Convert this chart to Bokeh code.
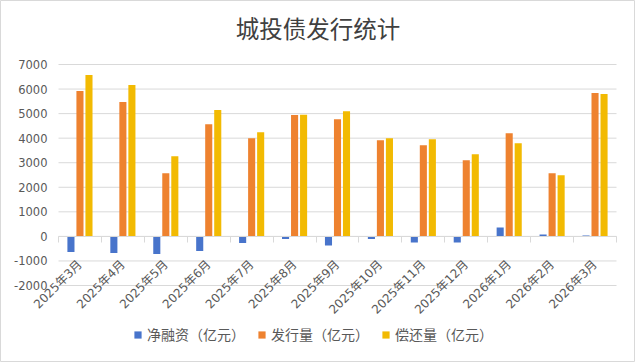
import math
import numpy as np
from bokeh.plotting import figure
from bokeh.models import (ColumnDataSource, LinearAxis, FixedTicker, Label,
                          Legend, LegendItem, Range1d)
from bokeh.embed import file_html
from bokeh.resources import INLINE

months = ["2025年3月", "2025年4月", "2025年5月", "2025年6月", "2025年7月", "2025年8月",
          "2025年9月", "2025年10月", "2025年11月", "2025年12月", "2026年1月", "2026年2月",
          "2026年3月"]
net_financing = [-640, -680, -720, -600, -270, -110, -367, -110, -245, -245, 367, 82, 41]
issuance = [5920, 5470, 2570, 4570, 4000, 4940, 4775, 3920, 3715, 3100, 4205, 2570, 5840]
repayment = [6570, 6165, 3265, 5145, 4245, 4950, 5100, 4000, 3960, 3350, 3795, 2490, 5795]
series_names = ["净融资（亿元）", "发行量（亿元）", "偿还量（亿元）"]
y_ticks = [-2000, -1000, 0, 1000, 2000, 3000, 4000, 5000, 6000, 7000]
title_text = "城投债发行统计"

colors = ["#4874CB", "#EE822F", "#F2BA02"]
FONT = "Noto Sans CJK SC"
NUM_FONT = "DejaVu Sans"
MIX_FONT = "DejaVu Sans, Noto Sans CJK SC"
TXT = "#595959"
GRID = "#d9d9d9"

# layout (pixels): the frame covers the whole canvas so no text gets clipped
W, H = 635, 362
PLOT_L, PLOT_R = 58, 616          # category band, left/right pixel
PLOT_T, PLOT_B = 64, 285          # value band (7000 .. -2000), top/bottom pixel

n = len(months)
idx = np.arange(n)
kx = n / (PLOT_R - PLOT_L)
ky = (y_ticks[-1] - y_ticks[0]) / (PLOT_B - PLOT_T)
x_rng = Range1d(-0.5 - PLOT_L * kx, n - 0.5 + (W - PLOT_R) * kx)
y_rng = Range1d(y_ticks[0] - (H - PLOT_B) * ky, y_ticks[-1] + PLOT_T * ky)

src = ColumnDataSource(dict(x=idx, net=net_financing, iss=issuance, rep=repayment))

p = figure(width=W, height=H, output_backend="svg", toolbar_location=None,
           x_range=x_rng, y_range=y_rng, title=None,
           min_border_left=0, min_border_right=0, min_border_top=0,
           min_border_bottom=0, x_axis_type=None, y_axis_type=None)
p.outline_line_color = GRID
p.outline_line_width = 1
p.background_fill_color = "white"
p.border_fill_color = "white"
p.grid.grid_line_color = None

# title
p.add_layout(Label(x=W / 2, y=H - 27, x_units="screen", y_units="screen", text=title_text,
                   text_align="center", text_baseline="middle", text_font=FONT,
                   text_font_size="23.5px", text_color="#404040"))

# horizontal grid lines at the value ticks, across the category band
p.segment(x0=[-0.5] * len(y_ticks), x1=[n - 0.5] * len(y_ticks), y0=y_ticks, y1=y_ticks,
          line_color=GRID, line_width=1, level="underlay")

# value axis drawn at the left edge of the category band
yaxis = LinearAxis(fixed_location=-0.5, ticker=FixedTicker(ticks=y_ticks),
                   major_label_overrides={t: str(t) for t in y_ticks},
                   axis_line_color=None, major_tick_line_color=None,
                   minor_tick_line_color=None, major_tick_in=0, major_tick_out=0,
                   major_label_standoff=11, major_label_text_font=NUM_FONT,
                   major_label_text_font_size="11.5px", major_label_text_color=TXT)
p.add_layout(yaxis, "left")

# bars
w = 0.165
offs = [-0.21, 0.0, 0.21]
cols = ["net", "iss", "rep"]
renderers = []
for c, o, col in zip(cols, offs, colors):
    r = p.vbar(x=idx + o, top=src.data[c], bottom=0, width=w, color=col, line_color=None)
    renderers.append(r)

# category axis drawn at zero: labels at centres, boundary ticks as minor ticks
xaxis = LinearAxis(fixed_location=0, bounds=(-0.5, n - 0.5),
                   ticker=FixedTicker(ticks=list(idx), minor_ticks=list(np.arange(n + 1) - 0.5)),
                   major_label_overrides={int(i): m for i, m in zip(idx, months)},
                   major_label_orientation=math.pi / 4,
                   major_label_text_font=MIX_FONT, major_label_text_font_size="12px",
                   major_label_text_color=TXT, major_label_standoff=20,
                   major_tick_in=0, major_tick_out=0, major_tick_line_color=None,
                   minor_tick_in=0, minor_tick_out=6, minor_tick_line_color=GRID,
                   axis_line_color=GRID)
p.add_layout(xaxis, "below")

legend = Legend(items=[LegendItem(label=nm, renderers=[r]) for nm, r in zip(series_names, renderers)],
                orientation="horizontal", location=(133, 18),
                label_text_font=FONT, label_text_font_size="14px", label_text_color=TXT,
                glyph_width=9, glyph_height=9, label_standoff=5, spacing=12,
                padding=0, margin=0, label_height=16,
                border_line_color=None, background_fill_alpha=0)
p.add_layout(legend)

open("out.html", "w").write(file_html(p, INLINE))
